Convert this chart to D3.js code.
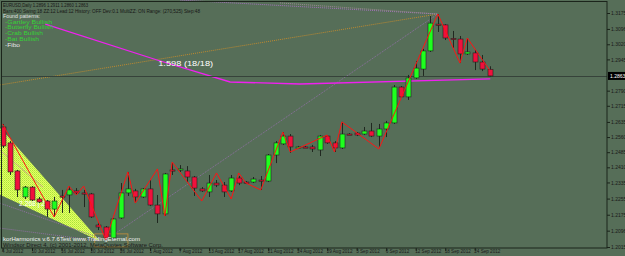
<!DOCTYPE html>
<html>
<head>
<meta charset="utf-8">
<script src="https://cdn.jsdelivr.net/npm/d3@7"></script>
<style>
body{margin:0;background:#566e58;overflow:hidden;}
svg{display:block;}
text{font-family:"Liberation Sans",Arial,sans-serif;}
</style>
</head>
<body>
<script>
// EURUSD daily, 4 Jul 2012 .. 26 Sep 2012
let dateLabels = ["4 Jul 2012","10 Jul 2012","16 Jul 2012","20 Jul 2012","26 Jul 2012","1 Aug 2012","7 Aug 2012","13 Aug 2012","17 Aug 2012","21 Aug 2012","24 Aug 2012","29 Aug 2012","3 Sep 2012","6 Sep 2012","12 Sep 2012","18 Sep 2012","24 Sep 2012"];
let dateBars = [0,4,8,12,16,20,24,28,32,36,40,44,48,52,56,60,64];

let opens = [1.2610,1.2531,1.2392,1.2263,1.2312,1.2253,1.2243,1.2203,1.2268,1.2273,1.2293,1.2283,1.2278,1.2124,1.2114,1.2060,1.2159,1.2283,1.2293,1.2263,1.2303,1.2223,1.2179,1.2397,1.2399,1.2392,1.2362,1.2303,1.2288,1.2332,1.2322,1.2293,1.2357,1.2337,1.2337,1.2347,1.2342,1.2471,1.2526,1.2565,1.2508,1.2511,1.2511,1.2496,1.2565,1.2531,1.2506,1.2575,1.2580,1.2575,1.2590,1.2565,1.2600,1.2630,1.2808,1.2759,1.2853,1.2897,1.2987,1.3120,1.3116,1.3049,1.3046,1.2972,1.2977,1.2932,1.2896];
let highs = [1.2625,1.2540,1.2397,1.2317,1.2317,1.2263,1.2248,1.2263,1.2298,1.2317,1.2307,1.2298,1.2283,1.2139,1.2119,1.2159,1.2332,1.2387,1.2303,1.2307,1.2347,1.2273,1.2382,1.2436,1.2421,1.2416,1.2367,1.2312,1.2372,1.2347,1.2337,1.2372,1.2367,1.2342,1.2362,1.2367,1.2476,1.2540,1.2585,1.2575,1.2516,1.2516,1.2521,1.2570,1.2570,1.2540,1.2635,1.2580,1.2585,1.2610,1.2630,1.2625,1.2640,1.2818,1.2813,1.2868,1.2937,1.2997,1.3160,1.3170,1.3120,1.3086,1.3061,1.3051,1.2992,1.2967,1.2911];
let lows = [1.2506,1.2372,1.2263,1.2253,1.2243,1.2233,1.2164,1.2164,1.2184,1.2184,1.2273,1.2213,1.2159,1.2099,1.2050,1.2055,1.2154,1.2268,1.2233,1.2258,1.2218,1.2134,1.2169,1.2372,1.2387,1.2337,1.2268,1.2288,1.2263,1.2312,1.2263,1.2288,1.2322,1.2327,1.2332,1.2298,1.2337,1.2431,1.2521,1.2481,1.2506,1.2506,1.2486,1.2466,1.2526,1.2486,1.2501,1.2570,1.2565,1.2570,1.2560,1.2506,1.2560,1.2625,1.2754,1.2744,1.2848,1.2863,1.2982,1.3081,1.3041,1.3001,1.2927,1.2967,1.2892,1.2887,1.2860];
let closes = [1.2516,1.2387,1.2298,1.2312,1.2248,1.2238,1.2203,1.2243,1.2265,1.2298,1.2283,1.2280,1.2164,1.2114,1.2060,1.2154,1.2283,1.2303,1.2263,1.2303,1.2223,1.2179,1.2377,1.2394,1.2402,1.2362,1.2307,1.2293,1.2332,1.2322,1.2288,1.2357,1.2332,1.2335,1.2352,1.2342,1.2471,1.2531,1.2565,1.2511,1.2511,1.2508,1.2501,1.2565,1.2531,1.2506,1.2575,1.2573,1.2570,1.2590,1.2565,1.2600,1.2630,1.2808,1.2759,1.2853,1.2902,1.2987,1.3125,1.3116,1.3051,1.3046,1.2972,1.2982,1.2932,1.2897,1.2863];

let priceTicks = [1.3175,1.3096,1.3020,1.2945,1.2790,1.2715,1.2635,1.2560,1.2485,1.2410,1.2335,1.2255,1.2175,1.2096,1.2015];

// zigzag pivots: bar index / price
let zzBars = [0,7,9,10,11,14,17,18,21,22,23,27,29,31,32,33,35,38,39,44,45,46,51,59,62,63,66];
let zzPrices = [1.2625,1.2164,1.2317,1.2273,1.2317,1.2050,1.2387,1.2233,1.2402,1.2169,1.2436,1.2243,1.2382,1.2253,1.2382,1.2332,1.2298,1.2585,1.2486,1.2570,1.2486,1.2635,1.2501,1.3170,1.2927,1.3051,1.2892];

let patternNames = ["-Gartley Bullish","-Butterfly Bullish","-Crab Bullish","-Bat Bullish"];

window.onload = function(){

let width = 625,
	height = 256;

let svg = d3.select("body").append("svg").attr("width",width).attr("height",height);

let x = d3.scaleLinear().domain([0, 66]).range([2.5, 489.5]);
let y = d3.scaleLinear().domain([1.2015, 1.3175]).range([247, 13]);

// dithered lime fill for the pattern triangle
let pat = svg.append("defs").append("pattern")
	.attr("id","lime").attr("width",2).attr("height",2).attr("patternUnits","userSpaceOnUse");
pat.append("rect").attr("width",2).attr("height",2).attr("fill","#e6ff62");
pat.append("rect").attr("width",1).attr("height",1).attr("fill","#a8e43c");
pat.append("rect").attr("x",1).attr("y",1).attr("width",1).attr("height",1).attr("fill","#c0f04a");

svg.append("rect").attr("width",width).attr("height",height).attr("fill","#566e58");

let plot = svg.append("g");

let line = d3.line().x(d => x(d[0])).y(d => y(d[1]));

// pattern wedge
plot.append("path")
	.datum([[-0.4,1.2610],[13.2,1.2045],[-0.4,1.2275]])
	.attr("d", d => line(d) + "Z")
	.attr("fill","url(#lime)");
plot.append("path")
	.datum([[-0.4,1.2496],[5.5,1.2312]])
	.attr("d", line).attr("stroke","#c98a9a").attr("stroke-width",0.7).attr("fill","none");

// fibo / pattern lines
let dotted = [
	{pts:[[-0.4,1.2818],[59,1.3170]], c:"#c08a2e"},
	{pts:[[14,1.2050],[59,1.3170]], c:"#8e6fa2"},
	{pts:[[24.1,1.3239],[59,1.3170]], c:"#a070b8"},
	{pts:[[37.6,1.3225],[59,1.3170]], c:"#9a8a92"},
	{pts:[[-0.4,1.2233],[13.2,1.2060]], c:"#8e6fa2"},
	{pts:[[-0.4,1.2109],[13.2,1.2045]], c:"#8e6fa2"}
];
dotted.forEach(function(l){
	plot.append("path").datum(l.pts).attr("d", line)
		.attr("stroke", l.c).attr("stroke-width",1).attr("stroke-dasharray","1,1").attr("fill","none");
});

// magenta fibo line
plot.append("path")
	.datum([[5.8,1.3120],[20.95,1.2942],[30.85,1.2833],[40.3,1.2823],[66.1,1.2848]])
	.attr("d", line).attr("stroke","#f020f0").attr("stroke-width",1.3).attr("fill","none");

// orange box at bottom
plot.append("rect")
	.attr("x", x(12.5)).attr("y", y(1.2080))
	.attr("width", x(17) - x(12.5)).attr("height", y(1.2015) - y(1.2080))
	.attr("fill","none").attr("stroke","#c8903a").attr("stroke-width",0.8);

// current price line
let last = closes[closes.length-1];
plot.append("line").attr("x1",1).attr("x2",607).attr("y1",Math.round(y(last))+0.5).attr("y2",Math.round(y(last))+0.5)
	.attr("stroke","#36433a").attr("stroke-width",1.2);

// texts under candles
plot.append("text").attr("x", x(2.25)).attr("y", y(1.2220)).text("2.268 | 2")
	.attr("fill","#ffffff").attr("font-size",7).attr("textLength",26).attr("lengthAdjust","spacingAndGlyphs");
plot.append("text").attr("x", x(21.1)).attr("y", y(1.2912)).text("1.598 (18/18)")
	.attr("fill","#ffffff").attr("font-size",7).attr("textLength",55).attr("lengthAdjust","spacingAndGlyphs");

svg.append("text").attr("x",3).attr("y",240.5).text("korHarmonics v.6.7.6Test www.TradingEternal.com")
	.attr("fill","#f2f2f2").attr("font-size",6).attr("textLength",137).attr("lengthAdjust","spacingAndGlyphs");
svg.append("text").attr("x",3).attr("y",247).text("Windsor Direct 4, (c) 2001-2012, MetaQuotes Software Corp.")
	.attr("fill","#1a1a1a").attr("font-size",5.8).attr("textLength",160).attr("lengthAdjust","spacingAndGlyphs");

// candles
let bars = d3.range(opens.length);
let candle = plot.selectAll(".candle").data(bars).enter().append("g").attr("class","candle");

candle.append("line")
	.attr("x1", i => Math.round(x(i))+0.5).attr("x2", i => Math.round(x(i))+0.5)
	.attr("y1", i => y(highs[i])).attr("y2", i => y(lows[i]))
	.attr("stroke","#202820").attr("stroke-width",1);

candle.append("rect")
	.attr("x", i => Math.round(x(i)) - 2)
	.attr("y", i => y(Math.max(opens[i], closes[i])))
	.attr("width", 5)
	.attr("height", i => Math.max(1.2, Math.abs(y(opens[i]) - y(closes[i]))))
	.attr("fill", i => closes[i] >= opens[i] ? "#1eff1e" : "#f0103c")
	.attr("stroke", "#1e261e").attr("stroke-width",0.6);

// zigzag
plot.append("path")
	.datum(zzBars.map((b,i) => [b, zzPrices[i]]))
	.attr("d", line).attr("stroke","#ff1414").attr("stroke-width",1).attr("fill","none");

// frame
svg.append("rect").attr("x",1.5).attr("y",1.5).attr("width",605.5).attr("height",246.5)
	.attr("fill","none").attr("stroke","#1b241b").attr("stroke-width",1);

// price axis
let yAxis = svg.append("g").attr("transform","translate(607,0)")
	.call(d3.axisRight(y).tickValues(priceTicks).tickSize(3).tickPadding(1).tickFormat(d3.format(".4f")));
yAxis.select(".domain").remove();
yAxis.selectAll("line").attr("stroke","#1b241b");
yAxis.selectAll("text").attr("fill","#1a1a1a").attr("font-size",5).attr("font-family","Liberation Serif, serif");

let tag = svg.append("g").attr("transform","translate(608," + y(last) + ")");
tag.append("rect").attr("x",0).attr("y",-4).attr("width",17).attr("height",8).attr("fill","#000");
tag.append("text").attr("x",2).attr("y",2).text(d3.format(".4f")(last))
	.attr("fill","#fff").attr("font-size",5).attr("font-family","Liberation Serif, serif");

// date axis
let xAxis = svg.append("g").attr("transform","translate(0,248)")
	.call(d3.axisBottom(x).tickValues(dateBars).tickSize(3).tickFormat((d,i) => dateLabels[i]));
xAxis.select(".domain").remove();
xAxis.selectAll("line").attr("stroke","#1b241b");
xAxis.selectAll("text").attr("text-anchor","start").attr("dx",-1).attr("dy",-1.5)
	.attr("fill","#1a1a1a").attr("font-size",4.6).attr("font-family","Liberation Serif, serif");

// header
svg.append("text").attr("x",3).attr("y",6.5).text("EURUSD,Daily  1.2896 1.2911 1.2860 1.2863")
	.attr("fill","#161616").attr("font-size",5).attr("textLength",85).attr("lengthAdjust","spacingAndGlyphs");
svg.append("text").attr("x",3).attr("y",12.5).text("Bars:400  Swing:18  ZZ:12  Lead:12  History: OFF Dev:0.1  MultiZZ: ON  Range: (270,525)  Step:48")
	.attr("fill","#161616").attr("font-size",5).attr("textLength",197).attr("lengthAdjust","spacingAndGlyphs");
svg.append("text").attr("x",3).attr("y",18).text("Found patterns:")
	.attr("fill","#e2e2e2").attr("font-size",5.2).attr("textLength",37).attr("lengthAdjust","spacingAndGlyphs");

let legendWidths = [47,48,38,34];
svg.selectAll(".pname").data(patternNames).enter().append("text").attr("class","pname")
	.attr("x",5).attr("y",(d,i) => 23.5 + i*5.7).text(d => d)
	.attr("fill","#35d235").attr("font-size",6.2)
	.attr("textLength",(d,i) => legendWidths[i]).attr("lengthAdjust","spacingAndGlyphs");
svg.append("text").attr("x",5).attr("y",46.5).text("-Fibo")
	.attr("fill","#e6e6e6").attr("font-size",6.2).attr("textLength",15).attr("lengthAdjust","spacingAndGlyphs");

};
</script>
</body>
</html>
